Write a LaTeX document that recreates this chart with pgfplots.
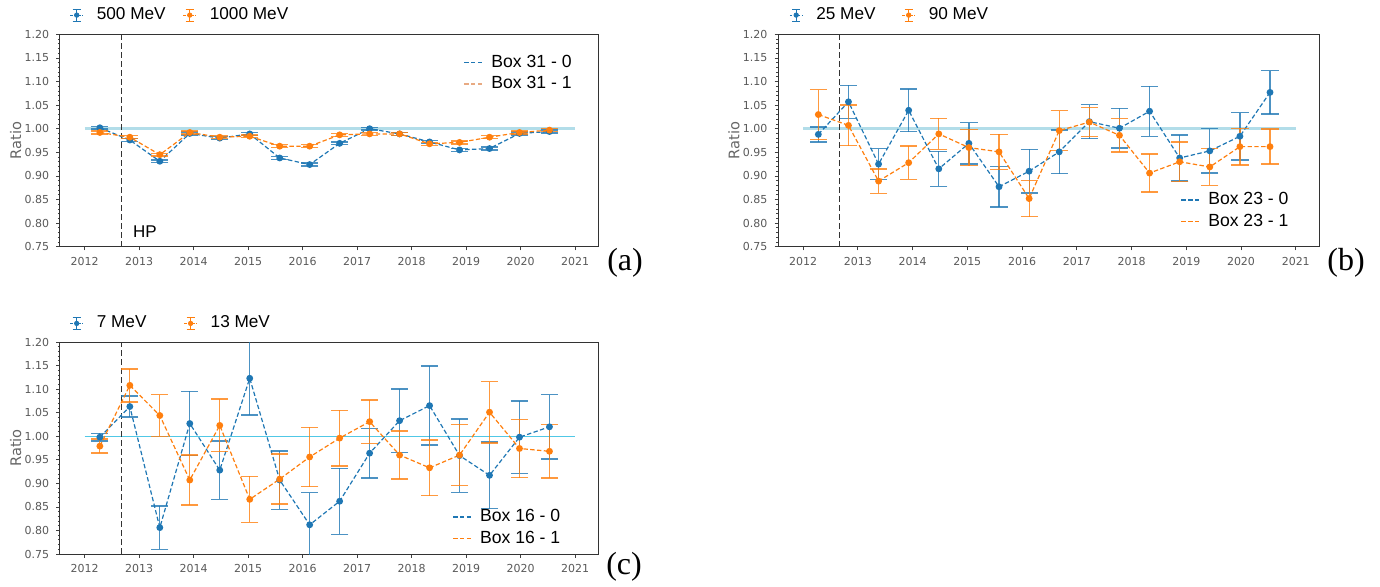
\documentclass[border=0pt]{standalone}
\usepackage{fontspec}
\setmainfont{Liberation Sans}
\newfontfamily\dejavu{DejaVu Sans}
\newfontfamily\serif{Liberation Serif}
\usepackage{pgfplots}
\usepackage{pgfplotstable}
\pgfplotsset{compat=1.18}

\definecolor{tblue}{HTML}{1F77B4}
\definecolor{torange}{HTML}{FF7F0E}
\definecolor{reflight}{RGB}{178,221,233}
\definecolor{refcyan}{RGB}{80,200,230}
\definecolor{lorange}{RGB}{232,170,130}

% ---------- panel (a) ----------
\pgfplotstableread{
x y e
2012.28 1.002 0.003
2012.83 0.976 0.003
2013.38 0.931 0.003
2013.93 0.990 0.003
2014.48 0.980 0.003
2015.03 0.989 0.003
2015.58 0.938 0.003
2016.13 0.924 0.003
2016.68 0.969 0.003
2017.23 1.000 0.003
2017.78 0.989 0.003
2018.33 0.972 0.003
2018.88 0.955 0.003
2019.43 0.958 0.003
2019.98 0.990 0.003
2020.53 0.994 0.003
}\dataAblue
\pgfplotstableread{
x y e
2012.28 0.992 0.003
2012.83 0.982 0.003
2013.38 0.945 0.003
2013.93 0.992 0.003
2014.48 0.982 0.003
2015.03 0.984 0.003
2015.58 0.963 0.003
2016.13 0.963 0.003
2016.68 0.987 0.003
2017.23 0.989 0.003
2017.78 0.989 0.003
2018.33 0.968 0.003
2018.88 0.971 0.003
2019.43 0.982 0.003
2019.98 0.992 0.003
2020.53 0.997 0.003
}\dataAorange
% ---------- panel (b) ----------
\pgfplotstableread{
x y e
2012.28 0.988 0.016
2012.83 1.057 0.035
2013.38 0.925 0.033
2013.93 1.039 0.045
2014.48 0.915 0.037
2015.03 0.969 0.044
2015.58 0.877 0.043
2016.13 0.910 0.046
2016.68 0.951 0.046
2017.23 1.015 0.036
2017.78 1.001 0.042
2018.33 1.037 0.053
2018.88 0.938 0.049
2019.43 0.953 0.047
2019.98 0.984 0.050
2020.53 1.077 0.046
}\dataBblue
\pgfplotstableread{
x y e
2012.28 1.030 0.053
2012.83 1.007 0.043
2013.38 0.889 0.026
2013.93 0.928 0.035
2014.48 0.989 0.033
2015.03 0.960 0.038
2015.58 0.951 0.037
2016.13 0.852 0.038
2016.68 0.996 0.042
2017.23 1.014 0.031
2017.78 0.986 0.035
2018.33 0.906 0.040
2018.88 0.930 0.042
2019.43 0.919 0.039
2019.98 0.962 0.039
2020.53 0.962 0.037
}\dataBorange
% ---------- panel (c) ----------
\pgfplotstableread{
x y e
2012.28 0.998 0.008
2012.83 1.063 0.022
2013.38 0.806 0.046
2013.93 1.027 0.068
2014.48 0.928 0.062
2015.03 1.123 0.078
2015.58 0.907 0.062
2016.13 0.812 0.068
2016.68 0.862 0.070
2017.23 0.964 0.053
2017.78 1.033 0.067
2018.33 1.065 0.084
2018.88 0.959 0.078
2019.43 0.917 0.071
2019.98 0.998 0.077
2020.53 1.020 0.068
}\dataCblue
\pgfplotstableread{
x y e
2012.28 0.979 0.015
2012.83 1.108 0.035
2013.38 1.044 0.044
2013.93 0.907 0.053
2014.48 1.023 0.056
2015.03 0.866 0.049
2015.58 0.909 0.053
2016.13 0.956 0.063
2016.68 0.996 0.059
2017.23 1.031 0.046
2017.78 0.960 0.051
2018.33 0.933 0.059
2018.88 0.960 0.065
2019.43 1.051 0.065
2019.98 0.974 0.062
2020.53 0.968 0.057
}\dataCorange

\pgfplotsset{
  panel/.style={
    scale only axis, anchor=south west,
    xmin=2011.545, xmax=2021.43, ymin=0.75, ymax=1.20,
    xtick={2012,2013,...,2021},
    ytick={0.75,0.80,0.85,0.90,0.95,1.00,1.05,1.10,1.15,1.20},
    minor y tick num=4, minor x tick num=3,
    /pgf/number format/assume math mode=true,
    x tick label style={/pgf/number format/1000 sep={}},
    y tick label style={/pgf/number format/.cd, fixed, fixed zerofill, precision=2},
    tick label style={font=\dejavu\fontsize{5.5}{6}\selectfont, text=black!65},
    tick align=outside, tickpos=left,
    major tick length=1.8pt, minor tick length=1pt,
    tick style={black!75, line width=0.4pt},
    axis line style={black!80, line width=0.5pt},
    ylabel={Ratio},
    ylabel style={font=\dejavu\fontsize{7.3}{8}\selectfont, text=black!60, at={(axis description cs:-0.082,0.5)}, anchor=center},
    clip=true,
    legend columns=2,
    legend cell align=left,
    legend style={draw=none, fill=none, font=\fontsize{8.6}{9}\selectfont,
      at={(axis description cs:0,1)}, anchor=west, yshift=9.6pt,
      inner sep=0pt, nodes={inner sep=0.6pt},
      /tikz/every odd column/.append style={column sep=6pt}},
  },
  inleg/.style={
    scale only axis, anchor=south west, hide axis,
    xmin=0, xmax=1, ymin=0, ymax=1,
    legend cell align=left,
    legend image code/.code={\draw[##1] (0pt,0pt) -- (10pt,0pt);},
    legend style={draw=none, fill=none, font=\fontsize{8.8}{9}\selectfont,
      inner sep=0pt, row sep=1.5pt,
      nodes={inner sep=0.6pt, text height=6.4pt, text depth=1.6pt},
      /tikz/every odd column/.append style={column sep=2.4pt}},
  },
  errleg/.style={legend image code/.code={
    \draw[#1, line width=0.5pt, dash pattern=on 1.2pt off 0.8pt] (0pt,0pt) -- (6.4pt,0pt);
    \draw[#1, line width=0.5pt] (3.2pt,-3pt) -- (3.2pt,3pt) (1.2pt,3pt) -- (5.2pt,3pt) (1.2pt,-3pt) -- (5.2pt,-3pt);
    \fill[#1] (3.2pt,0pt) circle (1.1pt);
  }},
  series/.style={#1, line width=0.6pt, dash pattern=on 2.2pt off 1.2pt,
    mark=*, mark size=1.4pt, mark options={solid, fill=#1, draw=#1},
    error bars/.cd, y dir=both, y explicit,
    error bar style={solid, line width=0.6pt, draw opacity=0.8},
    error mark options={solid, rotate=90, mark size=4.3pt, line width=0.7pt, draw opacity=0.8}},
}

\begin{document}
\begin{tikzpicture}
\useasboundingbox (0pt,0pt) rectangle (690pt,293pt);

% ================= (a) =================
\begin{axis}[panel, at={(29.9pt,169.65pt)}, width=269.35pt, height=106.2pt,
  legend style={xshift=4.8pt, /tikz/every even column/.append style={column sep=8pt}}]
\addplot[forget plot, reflight, line width=1.6pt] coordinates {(2012,1) (2021,1)};
\addplot[forget plot, black!80, line width=0.6pt, dash pattern=on 3pt off 1.5pt] coordinates {(2012.67,0.75) (2012.67,1.2)};
\addplot[forget plot, series=tblue] table[x=x, y=y, y error=e] {\dataAblue};
\addplot[forget plot, series=torange] table[x=x, y=y, y error=e] {\dataAorange};
\addlegendimage{errleg=tblue}
\addlegendentry{500 MeV}
\addlegendimage{errleg=torange}
\addlegendentry{1000 MeV}
\node[anchor=base west, font=\fontsize{8.5}{9}\selectfont] at (axis cs:2012.76,0.7705) {HP};
\end{axis}
\begin{axis}[inleg, at={(29.9pt,169.65pt)}, width=269.35pt, height=106.2pt,
  legend style={at={(0.953,0.912)}, anchor=north east}]
\addlegendimage{tblue, line width=0.8pt, dash pattern=on 2.2pt off 1.2pt}
\addlegendentry{Box 31 - 0}
\addlegendimage{lorange, line width=1.1pt, dash pattern=on 2.2pt off 1.2pt}
\addlegendentry{Box 31 - 1}
\end{axis}
\node[font=\serif\fontsize{16}{18}\selectfont] at (312.5pt,161.5pt) {(a)};

% ================= (b) =================
\begin{axis}[panel, at={(389.05pt,169.65pt)}, width=270.6pt, height=106.2pt,
  ylabel style={at={(axis description cs:-0.0815,0.5)}},
  legend style={xshift=5.4pt, /tikz/every even column/.append style={column sep=12.5pt}}]
\addplot[forget plot, reflight, line width=1.6pt] coordinates {(2012,1) (2021,1)};
\addplot[forget plot, black!80, line width=0.6pt, dash pattern=on 3pt off 1.5pt] coordinates {(2012.67,0.75) (2012.67,1.2)};
\addplot[forget plot, series=tblue] table[x=x, y=y, y error=e] {\dataBblue};
\addplot[forget plot, series=torange] table[x=x, y=y, y error=e] {\dataBorange};
\addlegendimage{errleg=tblue}
\addlegendentry{25 MeV}
\addlegendimage{errleg=torange}
\addlegendentry{90 MeV}
\end{axis}
\begin{axis}[inleg, at={(389.05pt,169.65pt)}, width=270.6pt, height=106.2pt,
  legend style={at={(0.946,0.074)}, anchor=south east}]
\addlegendimage{tblue, line width=0.8pt, dash pattern=on 2.2pt off 1.2pt}
\addlegendentry{Box 23 - 0}
\addlegendimage{torange, line width=0.8pt, dash pattern=on 2.2pt off 1.2pt}
\addlegendentry{Box 23 - 1}
\end{axis}
\node[font=\serif\fontsize{16}{18}\selectfont] at (673pt,161.5pt) {(b)};

% ================= (c) =================
\begin{axis}[panel, at={(29.9pt,16pt)}, width=269.35pt, height=106pt,
  legend style={xshift=4.8pt, yshift=-0.3pt, /tikz/every even column/.append style={column sep=18pt}}]
\addplot[forget plot, refcyan, line width=0.6pt] coordinates {(2012,1) (2021,1)};
\addplot[forget plot, black!80, line width=0.6pt, dash pattern=on 3pt off 1.5pt] coordinates {(2012.67,0.75) (2012.67,1.2)};
\addplot[forget plot, series=tblue] table[x=x, y=y, y error=e] {\dataCblue};
\addplot[forget plot, series=torange] table[x=x, y=y, y error=e] {\dataCorange};
\addlegendimage{errleg=tblue}
\addlegendentry{7 MeV}
\addlegendimage{errleg=torange}
\addlegendentry{13 MeV}
\end{axis}
\begin{axis}[inleg, at={(29.9pt,16pt)}, width=269.35pt, height=106pt,
  legend style={at={(0.932,0.028)}, anchor=south east}]
\addlegendimage{tblue, line width=0.8pt, dash pattern=on 2.2pt off 1.2pt}
\addlegendentry{Box 16 - 0}
\addlegendimage{torange, line width=0.8pt, dash pattern=on 2.2pt off 1.2pt}
\addlegendentry{Box 16 - 1}
\end{axis}
\node[font=\serif\fontsize{16}{18}\selectfont] at (312pt,9.5pt) {(c)};
\end{tikzpicture}
\end{document}
